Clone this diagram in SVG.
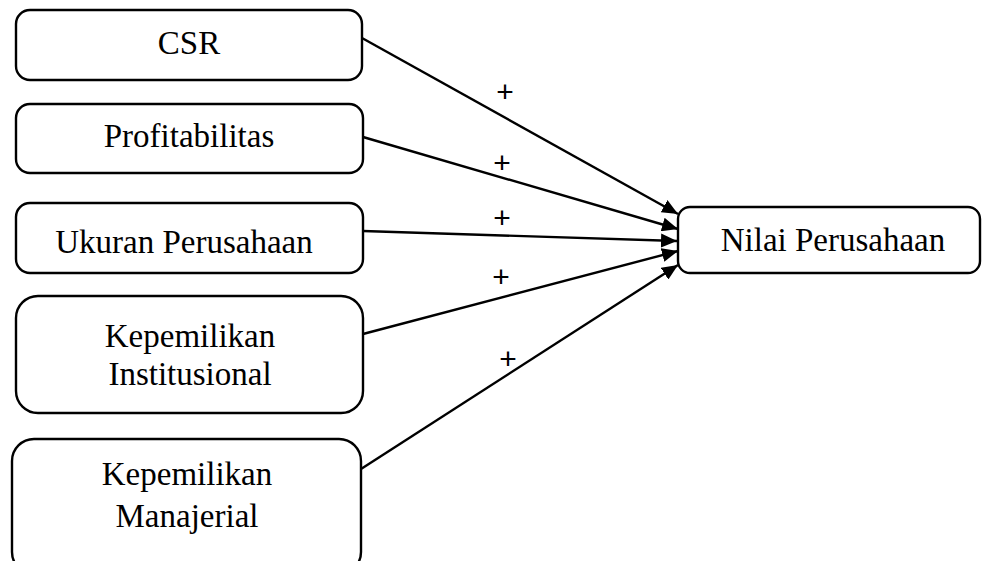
<svg xmlns="http://www.w3.org/2000/svg" width="982" height="561" viewBox="0 0 982 561">
<style>
.box{fill:#fff;stroke:#000;stroke-width:2.4}
.t{font-family:"Liberation Serif","Times New Roman",serif;font-size:33px;fill:#000;text-anchor:middle}
.p{font-family:"Liberation Sans",Arial,sans-serif;font-size:30px;fill:#000;text-anchor:middle}
.c{stroke:#000;stroke-width:2.4;fill:none;marker-end:url(#ah)}
</style>
<defs>
<marker id="ah" markerUnits="userSpaceOnUse" markerWidth="17" markerHeight="14" refX="16" refY="7" orient="auto">
<path d="M0,0 L16,7 L0,14 Z" fill="#000"/>
</marker>
</defs>
<g id="connectors">
<line class="c" x1="362" y1="38" x2="678" y2="214"/>
<line class="c" x1="363" y1="137" x2="678" y2="229"/>
<line class="c" x1="363" y1="231" x2="677" y2="241"/>
<line class="c" x1="363" y1="334" x2="678" y2="251"/>
<line class="c" x1="361" y1="469" x2="678" y2="265"/>
<text class="p" x="505" y="101.5">+</text>
<text class="p" x="502" y="172.5">+</text>
<text class="p" x="502" y="227.5">+</text>
<text class="p" x="501" y="286.5">+</text>
<text class="p" x="508" y="368.5">+</text>
</g>
<g id="csr">
<rect class="box" x="16" y="10" width="346" height="70" rx="14"/>
<text class="t" x="189" y="54">CSR</text>
</g>
<g id="profitabilitas">
<rect class="box" x="16" y="104" width="347" height="69" rx="14"/>
<text class="t" x="189" y="147">Profitabilitas</text>
</g>
<g id="ukuran">
<rect class="box" x="16" y="203" width="347" height="70" rx="14"/>
<text class="t" x="184" y="253">Ukuran Perusahaan</text>
</g>
<g id="institusional">
<rect class="box" x="16" y="296" width="347" height="117" rx="22"/>
<text class="t" x="190" y="347">Kepemilikan</text>
<text class="t" x="190" y="385">Institusional</text>
</g>
<g id="manajerial">
<rect class="box" x="12" y="439" width="349" height="135" rx="22"/>
<text class="t" x="187" y="485">Kepemilikan</text>
<text class="t" x="187" y="527">Manajerial</text>
</g>
<g id="nilai">
<rect class="box" x="678" y="207" width="302" height="66" rx="12"/>
<text class="t" x="833" y="251">Nilai Perusahaan</text>
</g>
</svg>
